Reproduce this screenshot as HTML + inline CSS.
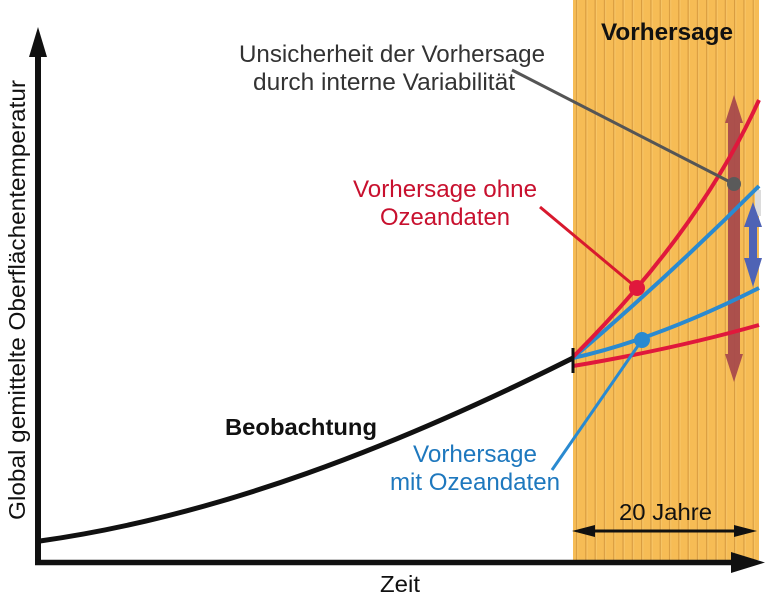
<!DOCTYPE html>
<html><head><meta charset="utf-8"><style>
html,body{margin:0;padding:0;background:#fff;}
svg{display:block;}
text{font-family:"Liberation Sans",Arial,sans-serif;}
</style></head><body>
<svg width="768" height="606" viewBox="0 0 768 606" xmlns="http://www.w3.org/2000/svg">
<defs>
<pattern id="wood" x="573" y="0" width="9.3" height="20" patternUnits="userSpaceOnUse">
<rect width="9.3" height="20" fill="#F6BC55"/>
<rect x="3" width="1.2" height="20" fill="#D69A3E"/>
<rect x="4.2" width="1" height="20" fill="#F9C86A"/>
</pattern>
</defs>
<rect width="768" height="606" fill="#fff"/>
<!-- orange forecast band -->
<rect x="573" y="0" width="186" height="560" fill="url(#wood)"/>

<!-- texts -->
<text x="601" y="40" font-size="24" font-weight="bold" fill="#111" textLength="132" lengthAdjust="spacingAndGlyphs">Vorhersage</text>
<text x="239" y="62" font-size="24" fill="#333" textLength="306" lengthAdjust="spacingAndGlyphs">Unsicherheit der Vorhersage</text>
<text x="253" y="90" font-size="24" fill="#333" textLength="262" lengthAdjust="spacingAndGlyphs">durch interne Variabilität</text>
<text x="353" y="197" font-size="24" fill="#C8102E" textLength="184" lengthAdjust="spacingAndGlyphs">Vorhersage ohne</text>
<text x="380" y="225" font-size="24" fill="#C8102E" textLength="130" lengthAdjust="spacingAndGlyphs">Ozeandaten</text>
<text x="225" y="435" font-size="23" font-weight="bold" fill="#111" textLength="152" lengthAdjust="spacingAndGlyphs">Beobachtung</text>
<text x="413" y="462" font-size="24" fill="#1E78BE" textLength="124" lengthAdjust="spacingAndGlyphs">Vorhersage</text>
<text x="390" y="490" font-size="24" fill="#1E78BE" textLength="170" lengthAdjust="spacingAndGlyphs">mit Ozeandaten</text>
<text x="619" y="520" font-size="23" fill="#111" textLength="93" lengthAdjust="spacingAndGlyphs">20 Jahre</text>
<text x="380" y="592" font-size="23" fill="#111" textLength="40" lengthAdjust="spacingAndGlyphs">Zeit</text>
<text transform="translate(25,520) rotate(-90)" x="0" y="0" font-size="23" fill="#111" textLength="440" lengthAdjust="spacingAndGlyphs">Global gemittelte Oberflächentemperatur</text>

<!-- brown uncertainty arrow -->
<path d="M734,95 L743,123 L740,123 L740,354 L743,354 L734,382 L725,354 L728,354 L728,123 L725,123 Z" fill="#A84A4C" opacity="0.95"/>

<!-- light gray patch -->
<rect x="755" y="190" width="6" height="26" fill="#dcdcdc"/>

<!-- forecast curves -->
<path d="M573,366 Q674,349 759,325" fill="none" stroke="#E0183C" stroke-width="4"/>
<path d="M573,358 Q655,340 759,288" fill="none" stroke="#2A8AD0" stroke-width="4"/>
<path d="M573,358 Q670,275 759,186" fill="none" stroke="#2A8AD0" stroke-width="4"/>
<path d="M573,357 Q700,230 759,100" fill="none" stroke="#E0183C" stroke-width="4"/>

<!-- blue double arrow -->
<path d="M753,202 L762,227 L757,227 L757,258 L762,258 L753,287 L744,258 L749,258 L749,227 L744,227 Z" fill="#4F63B5"/>

<!-- leader lines -->
<line x1="512" y1="70" x2="734" y2="184" stroke="#555" stroke-width="3"/>
<line x1="540" y1="207" x2="637" y2="288" stroke="#D8192E" stroke-width="3"/>
<line x1="552" y1="470" x2="642" y2="340" stroke="#2A8AD0" stroke-width="3"/>

<!-- dots -->
<circle cx="734" cy="184" r="7" fill="#5a5a5a"/>
<circle cx="637" cy="288" r="8" fill="#E0183C"/>
<circle cx="642" cy="340" r="8" fill="#2A8AD0"/>

<!-- observation curve -->
<path d="M40,541 C218,516 395,447 573,358" fill="none" stroke="#111" stroke-width="5"/>
<line x1="573" y1="348" x2="573" y2="373" stroke="#111" stroke-width="3"/>

<!-- 20 Jahre arrow -->
<line x1="590" y1="531" x2="740" y2="531" stroke="#111" stroke-width="3"/>
<path d="M572,531 L595,525 L595,537 Z" fill="#111"/>
<path d="M757,531 L734,525 L734,537 Z" fill="#111"/>

<!-- axes -->
<line x1="38" y1="565" x2="38" y2="55" stroke="#111" stroke-width="6"/>
<path d="M38,27 L47,57 L29,57 Z" fill="#111"/>
<line x1="35" y1="562.5" x2="735" y2="562.5" stroke="#111" stroke-width="5.5"/>
<path d="M765,562.5 L731,552 L731,573 Z" fill="#111"/>
</svg>
</body></html>
